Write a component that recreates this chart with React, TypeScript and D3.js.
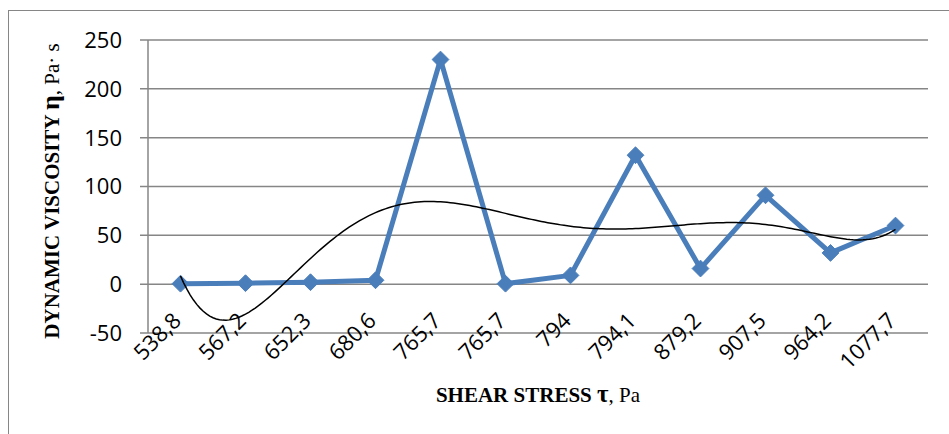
import React from "react";
import * as d3 from "d3";

const categories = ["538,8", "567,2", "652,3", "680,6", "765,7", "765,7", "794", "794,1", "879,2", "907,5", "964,2", "1077,7"];
const viscosity = [0.5, 1, 2, 4, 230, 0.5, 9, 132, 16, 91, 32, 60];
const yTicks = [-50, 0, 50, 100, 150, 200, 250];
const trendDegree = 6;

function polyFit(xs: number[], ys: number[], deg: number) {
  const n = deg + 1;
  const A: number[][] = Array.from({ length: n }, () => new Array(n + 1).fill(0));
  xs.forEach((x, i) => {
    for (let r = 0; r < n; r++) {
      for (let c = 0; c < n; c++) A[r][c] += Math.pow(x, r + c);
      A[r][n] += Math.pow(x, r) * ys[i];
    }
  });
  for (let c = 0; c < n; c++) {
    let p = c;
    for (let r = c + 1; r < n; r++) if (Math.abs(A[r][c]) > Math.abs(A[p][c])) p = r;
    [A[c], A[p]] = [A[p], A[c]];
    for (let r = 0; r < n; r++) {
      if (r === c) continue;
      const f = A[r][c] / A[c][c];
      for (let k = c; k <= n; k++) A[r][k] -= f * A[c][k];
    }
  }
  return A.map((row, i) => row[n] / row[i]);
}

export default function App() {
  const width = 949, height = 434;
  const left = 148, right = 928, top = 40, bottom = 333;
  const x = d3.scaleBand<number>().domain(d3.range(categories.length)).range([left, right]);
  const cx = (i: number) => (x(i) as number) + x.bandwidth() / 2;
  const y = d3.scaleLinear().domain([-50, 250]).range([bottom, top]);

  const idx = d3.range(1, categories.length + 1);
  const scale = (v: number) => (v - 6.5) / 5.5;
  const coef = polyFit(idx.map(scale), viscosity, trendDegree);
  const evalP = (t: number) => coef.reduce((s, c, k) => s + c * Math.pow(scale(t), k), 0);
  const trendPts = d3.range(0, 221).map((k) => 1 + (11 * k) / 220);
  const xc = d3.scaleLinear().domain([1, categories.length]).range([cx(0), cx(categories.length - 1)]);
  const trendPath = d3.line<number>().x((t) => xc(t)).y((t) => y(evalP(t)))(trendPts) || "";

  const linePath = d3.line<number>().x((_, i) => cx(i)).y((v) => y(v))(viscosity) || "";
  const diamond = d3.symbol().type(d3.symbolDiamond2).size(180)() || "";

  return (
    <svg width={width} height={height} style={{ position: "absolute", left: 0, top: 0 }}>
      <rect x={8.5} y={10.5} width={960} height={440} fill="white" stroke="#868686" strokeWidth={1} />
      {yTicks.map((t) => (
        <g key={t}>
          <line x1={140} x2={right} y1={y(t)} y2={y(t)} stroke="#868686" strokeWidth={1.5} />
          <text x={122} y={y(t)} dy="0.36em" textAnchor="end" fontFamily="'Open Sans', sans-serif" fontSize={22} fill="#000">
            {t}
          </text>
        </g>
      ))}
      <line x1={left} x2={left} y1={top} y2={bottom} stroke="#868686" strokeWidth={1.5} />
      {categories.map((c, i) => (
        <text
          key={i}
          transform={`translate(${cx(i) + 2},${322}) rotate(-45)`}
          textAnchor="end"
          fontFamily="'Open Sans', sans-serif"
          fontSize={22}
          fill="#000"
        >
          {c}
        </text>
      ))}
      <path d={linePath} fill="none" stroke="#4A7EBB" strokeWidth={5} strokeLinejoin="round" />
      {viscosity.map((v, i) => (
        <path key={i} d={diamond} transform={`translate(${cx(i)},${y(v)})`} fill="#4A7EBB" stroke="#4A7EBB" strokeWidth={1} />
      ))}
      <path d={trendPath} fill="none" stroke="#000" strokeWidth={1.5} />
      <text transform={`translate(59,${191}) rotate(-90)`} textAnchor="middle" fontFamily="'Liberation Serif', serif" fontSize={21} fill="#000">
        <tspan fontWeight="bold">DYNAMIC VISCOSITY </tspan>
        <tspan fontWeight="bold" fontSize={26}>η</tspan>
        <tspan>, Pa· s</tspan>
      </text>
      <text x={538} y={402} textAnchor="middle" fontFamily="'Liberation Serif', serif" fontSize={21} fill="#000">
        <tspan fontWeight="bold">SHEAR STRESS </tspan>
        <tspan fontWeight="bold" fontSize={25}>τ</tspan>
        <tspan>, Pa</tspan>
      </text>
    </svg>
  );
}
